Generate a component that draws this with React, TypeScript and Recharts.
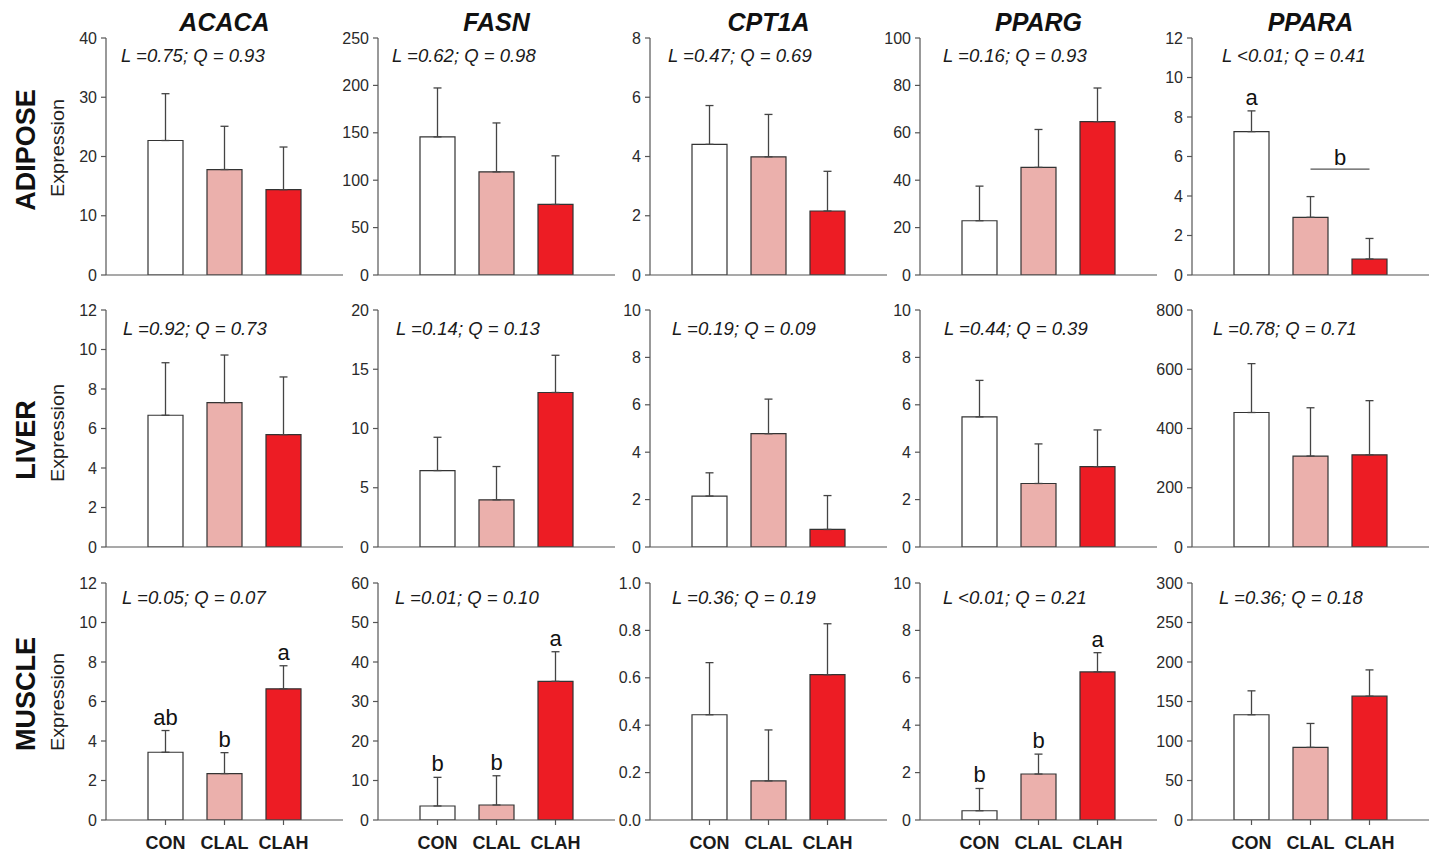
import React from 'react';
import { BarChart, Bar, XAxis, YAxis, ErrorBar, Cell, ReferenceDot, ReferenceLine } from 'recharts';

// ---------- data ----------
const CATEGORIES = ['CON', 'CLAL', 'CLAH'];
const GENES = ['ACACA', 'FASN', 'CPT1A', 'PPARG', 'PPARA'];
const TISSUES = ['ADIPOSE', 'LIVER', 'MUSCLE'];

// means [CON, CLAL, CLAH] per gene
const adiposeMeans = [
  [22.7, 17.8, 14.4],
  [145.7, 108.8, 74.4],
  [4.41, 3.99, 2.16],
  [22.9, 45.4, 64.7],
  [7.26, 2.92, 0.81],
];
const adiposeErrors = [
  [7.9, 7.3, 7.2],
  [51.6, 51.6, 51.3],
  [1.31, 1.43, 1.34],
  [14.6, 16.0, 14.2],
  [1.05, 1.05, 1.04],
];
const liverMeans = [
  [6.67, 7.31, 5.69],
  [6.45, 3.98, 13.04],
  [2.15, 4.78, 0.74],
  [5.49, 2.68, 3.39],
  [454, 307, 311],
];
const liverErrors = [
  [2.66, 2.41, 2.92],
  [2.81, 2.81, 3.14],
  [0.98, 1.46, 1.43],
  [1.54, 1.67, 1.55],
  [165, 163, 183],
];
const muscleMeans = [
  [3.43, 2.35, 6.64],
  [3.55, 3.8, 35.1],
  [0.444, 0.165, 0.613],
  [0.39, 1.94, 6.25],
  [133.2, 91.9, 156.7],
];
const muscleErrors = [
  [1.1, 1.06, 1.17],
  [7.25, 7.4, 7.5],
  [0.22, 0.215, 0.215],
  [0.94, 0.84, 0.81],
  [30.3, 30.3, 33.3],
];

const adiposeTicks = [
  [0, 10, 20, 30, 40],
  [0, 50, 100, 150, 200, 250],
  [0, 2, 4, 6, 8],
  [0, 20, 40, 60, 80, 100],
  [0, 2, 4, 6, 8, 10, 12],
];
const liverTicks = [
  [0, 2, 4, 6, 8, 10, 12],
  [0, 5, 10, 15, 20],
  [0, 2, 4, 6, 8, 10],
  [0, 2, 4, 6, 8, 10],
  [0, 200, 400, 600, 800],
];
const muscleTicks = [
  [0, 2, 4, 6, 8, 10, 12],
  [0, 10, 20, 30, 40, 50, 60],
  [0, 0.2, 0.4, 0.6, 0.8, 1.0],
  [0, 2, 4, 6, 8, 10],
  [0, 50, 100, 150, 200, 250, 300],
];
const tickDecimals = [
  [0, 0, 0, 0, 0],
  [0, 0, 0, 0, 0],
  [0, 0, 1, 0, 0],
];

const adiposeStats = ['L =0.75; Q = 0.93', 'L =0.62; Q = 0.98', 'L =0.47; Q = 0.69', 'L =0.16; Q = 0.93', 'L <0.01; Q = 0.41'];
const liverStats = ['L =0.92; Q = 0.73', 'L =0.14; Q = 0.13', 'L =0.19; Q = 0.09', 'L =0.44; Q = 0.39', 'L =0.78; Q = 0.71'];
const muscleStats = ['L =0.05; Q = 0.07', 'L =0.01; Q = 0.10', 'L =0.36; Q = 0.19', 'L <0.01; Q = 0.21', 'L =0.36; Q = 0.18'];

const NONE = ['', '', ''];
const adiposeLetters = [NONE, NONE, NONE, NONE, ['a', '', '']];
const liverLetters = [NONE, NONE, NONE, NONE, NONE];
const muscleLetters = [['ab', 'b', 'a'], ['b', 'b', 'a'], NONE, ['b', 'b', 'a'], NONE];

// letter shared by a group of bars, drawn over a line
const groupLetters = [{ row: 0, col: 4, text: 'b', from: 'CLAL', to: 'CLAH', level: 5.36 }];

const MEANS = [adiposeMeans, liverMeans, muscleMeans];
const ERRORS = [adiposeErrors, liverErrors, muscleErrors];
const TICKS = [adiposeTicks, liverTicks, muscleTicks];
const STATS = [adiposeStats, liverStats, muscleStats];
const LETTERS = [adiposeLetters, liverLetters, muscleLetters];

// ---------- layout / style ----------
const BAR_COLORS = ['#FFFFFF', '#EBB0AC', '#ED1C24'];
const FONT = '"Liberation Sans", Arial, sans-serif';
const COL_X = [106, 378, 650, 920, 1192];
const ROW_TOP = [38, 310, 583];
const PLOT_W = 237;
const PLOT_H = 237;
const Y_W = 42;
const M_TOP = 9;
const STAT_DX = [
  [15, 14, 18, 23, 30],
  [17, 18, 22, 24, 21],
  [16, 17, 22, 23, 27],
];
const STAT_DY = [24, 25, 21];
const ROW_LABEL_Y = [150, 440, 694];
const EXPR_Y = [148, 433, 702];

function Panel({ row, col }: { row: number; col: number }) {
  const means = MEANS[row][col];
  const errs = ERRORS[row][col];
  const ticks = TICKS[row][col];
  const letters = LETTERS[row][col];
  const dec = tickDecimals[row][col];
  const data = CATEGORIES.map((c, i) => ({ cat: c, mean: means[i], err: [0, errs[i]] }));
  const isBottom = row === 2;
  const xh = isBottom ? 40 : 20;
  const groups = groupLetters.filter((g) => g.row === row && g.col === col);
  return (
    <div style={{ position: 'absolute', left: COL_X[col] - Y_W, top: ROW_TOP[row] - M_TOP }}>
      <BarChart
        width={Y_W + PLOT_W}
        height={M_TOP + PLOT_H + xh}
        data={data}
        margin={{ top: M_TOP, right: 0, bottom: 0, left: 0 }}
        barSize={35}
      >
        <XAxis
          dataKey="cat"
          type="category"
          interval={0}
          padding={{ left: 30, right: 30 }}
          height={xh}
          axisLine={{ stroke: '#555', strokeWidth: 1.2 }}
          tickLine={{ stroke: '#555', strokeWidth: 1.2 }}
          tickSize={5}
          tickMargin={11}
          tick={isBottom ? { fontSize: 18, fontWeight: 'bold', fill: '#1a1a1a', fontFamily: FONT } : false}
        />
        <YAxis
          type="number"
          width={Y_W}
          domain={[0, ticks[ticks.length - 1]]}
          ticks={ticks}
          interval={0}
          allowDataOverflow
          tickFormatter={(v: number) => v.toFixed(dec)}
          axisLine={{ stroke: '#555', strokeWidth: 1.2 }}
          tickLine={{ stroke: '#555', strokeWidth: 1.2 }}
          tickSize={5}
          tickMargin={4}
          tick={{ fontSize: 16, fill: '#2a2a2a', fontFamily: FONT }}
        />
        <Bar dataKey="mean" stroke="#333" strokeWidth={1.2} isAnimationActive={false}>
          {data.map((d, i) => (
            <Cell key={d.cat} fill={BAR_COLORS[i]} />
          ))}
          <ErrorBar dataKey="err" width={4} stroke="#444" strokeWidth={1.3} direction="y" isAnimationActive={false} />
        </Bar>
        {data.map((d, i) =>
          letters[i] ? (
            <ReferenceDot
              key={'l' + i}
              x={d.cat}
              y={means[i] + errs[i]}
              r={1}
              fill="none"
              stroke="none"
              ifOverflow="visible"
              label={{ value: letters[i], position: 'top', offset: 5, fontSize: 22, fill: '#111', fontFamily: FONT }}
            />
          ) : null
        )}
        {groups.map((g, k) => (
          <ReferenceLine
            key={'g' + k}
            segment={[
              { x: g.from, y: g.level },
              { x: g.to, y: g.level },
            ]}
            stroke="#555"
            strokeWidth={1.3}
            ifOverflow="visible"
            label={{ value: g.text, position: 'top', offset: 4, fontSize: 22, fill: '#111', fontFamily: FONT }}
          />
        ))}
      </BarChart>
    </div>
  );
}

export default function App() {
  return (
    <div style={{ position: 'absolute', left: 0, top: 0, width: 1432, height: 854, background: '#fff', fontFamily: FONT }}>
      {TISSUES.map((t, r) => GENES.map((g, c) => <Panel key={t + g} row={r} col={c} />))}
      <svg width={1432} height={854} style={{ position: 'absolute', left: 0, top: 0, pointerEvents: 'none' }}>
        {GENES.map((g, c) => (
          <text
            key={g}
            x={COL_X[c] + PLOT_W / 2}
            y={31}
            textAnchor="middle"
            fontSize={25}
            fontWeight="bold"
            fontStyle="italic"
            fill="#111"
            fontFamily={FONT}
          >
            {g}
          </text>
        ))}
        {TISSUES.map((t, r) => (
          <text
            key={t}
            transform={`translate(35, ${ROW_LABEL_Y[r]}) rotate(-90)`}
            textAnchor="middle"
            fontSize={27}
            fontWeight="bold"
            fill="#111"
            fontFamily={FONT}
          >
            {t}
          </text>
        ))}
        {TISSUES.map((t, r) => (
          <text
            key={'e' + t}
            transform={`translate(64, ${EXPR_Y[r]}) rotate(-90)`}
            textAnchor="middle"
            fontSize={18}
            fill="#222"
            fontFamily={FONT}
            textLength={98}
            lengthAdjust="spacingAndGlyphs"
          >
            Expression
          </text>
        ))}
        {TISSUES.map((t, r) =>
          GENES.map((g, c) => (
            <text
              key={'s' + t + g}
              x={COL_X[c] + STAT_DX[r][c]}
              y={ROW_TOP[r] + STAT_DY[r]}
              fontSize={18.5}
              fontStyle="italic"
              fill="#1a1a1a"
              fontFamily={FONT}
            >
              {STATS[r][c]}
            </text>
          ))
        )}
      </svg>
    </div>
  );
}
